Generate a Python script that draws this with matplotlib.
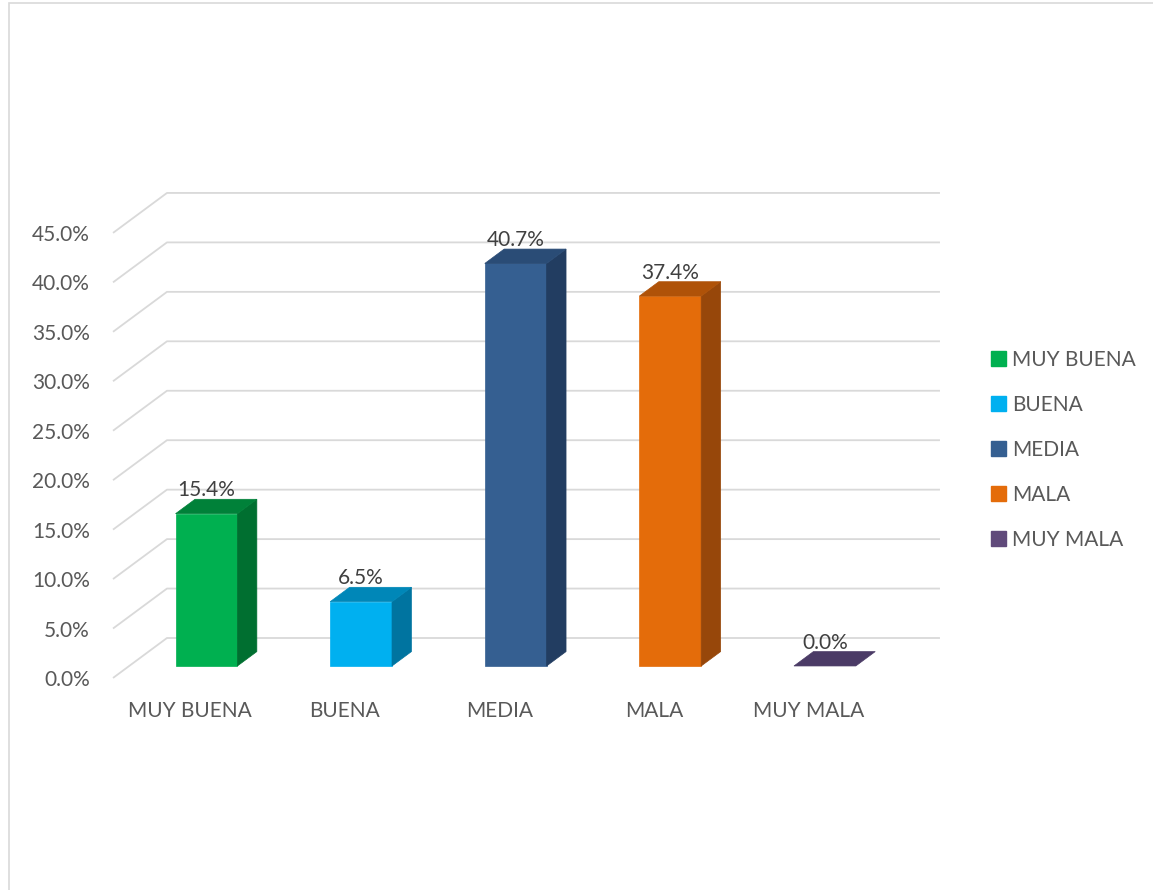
import matplotlib
matplotlib.use("Agg")
import matplotlib.pyplot as plt
from matplotlib.patches import Polygon, Patch, Rectangle

# ---- data ----
categories = ["MUY BUENA", "BUENA", "MEDIA", "MALA", "MUY MALA"]
values = [15.4, 6.5, 40.7, 37.4, 0.0]
value_labels = ["15.4%", "6.5%", "40.7%", "37.4%", "0.0%"]
tick_values = [0, 5, 10, 15, 20, 25, 30, 35, 40, 45]
tick_labels = ["0.0%", "5.0%", "10.0%", "15.0%", "20.0%", "25.0%", "30.0%", "35.0%", "40.0%", "45.0%"]

front_colors = ["#00B050", "#00B0F0", "#355F91", "#E46C0A", "#4B3B66"]
top_colors = ["#008139", "#0087B8", "#2A4C76", "#AF5208", "#4B3B66"]
side_colors = ["#006F30", "#0074A0", "#223D61", "#97470A", "#3C2F52"]
legend_colors = ["#00B050", "#00B0F0", "#355F91", "#E46C0A", "#604A7B"]

# ---- style / layout ----
W, H = 1153, 890
fig = plt.figure(figsize=(W / 100, H / 100), dpi=100)
ax = fig.add_axes([0, 0, 1, 1])
ax.set_xlim(-1.231, 6.227)
ax.set_ylim(-21.44, 68.55)
ax.axis("off")

FONT = "Lato"
FS = 15
TXT = "#595959"
GRID = "#D9D9D9"
DX, DY = 0.349, 4.04      # depth offset (category units, percent units)
Z0, Z1 = 0.30, 0.66       # bar depth range
BW = 0.40                 # bar width

def P(x, v, z):
    return (x + z * DX, v + z * DY)

# gridlines: side wall diagonals + back wall horizontals
x_left, x_right = -0.5, len(categories) - 0.5
for tv in tick_values:
    a = P(x_left, tv, 0)
    b = P(x_left, tv, 1)
    c = P(x_right, tv, 1)
    ax.plot([a[0], b[0], c[0]], [a[1], b[1], c[1]], color=GRID, lw=1.3,
            solid_capstyle="butt", zorder=1)

for tv, tl in zip(tick_values, tick_labels):
    ax.annotate(tl, xy=(x_left, tv), xytext=(-23, -2), textcoords="offset pixels",
                ha="right", va="center", fontsize=FS, color=TXT, family=FONT)

# bars
for i, (v, fc, tc, sc) in enumerate(zip(values, front_colors, top_colors, side_colors)):
    xl, xr = i - BW / 2, i + BW / 2
    front = [P(xl, 0, Z0), P(xr, 0, Z0), P(xr, v, Z0), P(xl, v, Z0)]
    side = [P(xr, 0, Z0), P(xr, 0, Z1), P(xr, v, Z1), P(xr, v, Z0)]
    top = [P(xl, v, Z0), P(xr, v, Z0), P(xr, v, Z1), P(xl, v, Z1)]
    if v > 0:
        ax.add_patch(Polygon(front, closed=True, facecolor=fc, edgecolor=fc, lw=0.5, zorder=3))
        ax.add_patch(Polygon(side, closed=True, facecolor=sc, edgecolor=sc, lw=0.5, zorder=3))
    ax.add_patch(Polygon(top, closed=True, facecolor=tc, edgecolor=tc, lw=0.5, zorder=3))
    lx, ly = P(i, v, Z1)
    fx, _ = P(i, v, Z0)
    ax.annotate(value_labels[i], xy=(fx, ly), xytext=(0, 9), textcoords="offset pixels",
                ha="center", va="center", fontsize=FS, color="#404040", family=FONT, zorder=4)

# category labels
for i, c in enumerate(categories):
    ax.annotate(c, xy=(i, 0), xytext=(0, -33), textcoords="offset pixels",
                ha="center", va="center", fontsize=FS, color=TXT, family=FONT)

# legend
handles = [Patch(facecolor=col, edgecolor=col) for col in legend_colors]
leg = fig.legend(handles, categories, loc="center left",
                 bbox_to_anchor=(983 / W, 1 - 450 / H), frameon=False,
                 prop={"family": FONT, "size": FS}, labelcolor=TXT,
                 handlelength=0.7, handleheight=0.7, handletextpad=0.3,
                 labelspacing=1.2, borderaxespad=0)

# chart border
fig.patches.append(Rectangle((9 / W, -0.1), 1.2, 1.1 - 3 / H, transform=fig.transFigure,
                             fill=False, edgecolor=GRID, lw=1.2))

fig.savefig("out.png", dpi=100, facecolor="white")
